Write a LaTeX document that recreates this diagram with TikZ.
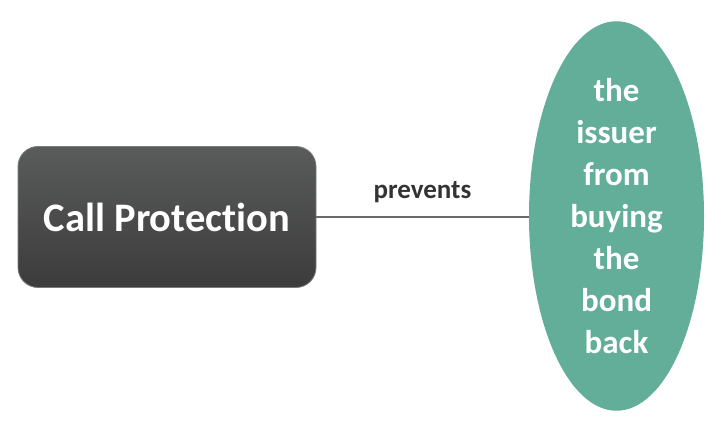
\documentclass[tikz,border=0pt]{standalone}
\usepackage{fontspec}
\setmainfont[Ligatures=NoCommon]{Carlito}
\usetikzlibrary{shapes.geometric}
\definecolor{boxtop}{HTML}{5A5B5B}
\definecolor{boxbot}{HTML}{3C3C3C}
\definecolor{boxedge}{HTML}{7A7A7A}
\definecolor{teal}{HTML}{62AE98}
\definecolor{linkgray}{HTML}{6A6A6A}
\definecolor{labelgray}{HTML}{333333}
\tikzset{
  mainbox/.style={rounded corners=20pt, top color=boxtop, bottom color=boxbot, draw=boxedge, line width=0.8pt,
    minimum width=298pt, minimum height=141pt, inner sep=0pt, text=white,
    font=\fontsize{40.5}{46}\selectfont\bfseries},
  targetell/.style={ellipse, fill=teal, draw=none, minimum width=175pt, minimum height=376pt, inner sep=0pt,
    text=white, align=center, font=\fontsize{33}{42}\selectfont\bfseries},
  link/.style={draw=linkgray, line width=1.8pt},
  linklabel/.style={text=labelgray, font=\fontsize{27}{30}\selectfont\bfseries, inner sep=0pt}
}
\begin{document}
\begin{tikzpicture}[x=1pt,y=1pt]
\useasboundingbox (0,0) rectangle (728,436);
\node[mainbox] (cp) at (167,219) {Call Protection};
\node[targetell] (ib) at (616.5,220) {the\\issuer\\from\\buying\\the\\bond\\back};
\draw[link] (cp.east) -- (ib.west |- cp.east) coordinate (lend);
\node[linklabel, anchor=base] (lbl) at (422.5,237) {prevents};
\end{tikzpicture}
\end{document}
